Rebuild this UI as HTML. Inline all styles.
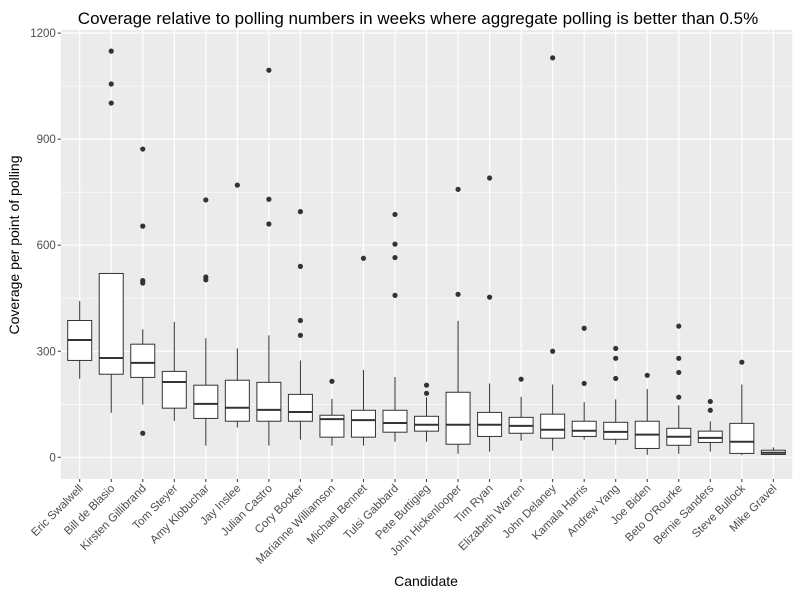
<!DOCTYPE html>
<html><head><meta charset="utf-8"><style>
body{margin:0;background:#fff;font-family:"Liberation Sans",Arial,sans-serif}
svg text{font-family:"Liberation Sans",Arial,sans-serif}
</style></head><body>
<svg id="chart" width="800" height="600" viewBox="0 0 800 600" xmlns="http://www.w3.org/2000/svg">
<rect width="800" height="600" fill="#fff"/>
<text x="418" y="24" font-size="17" text-anchor="middle" fill="#000">Coverage relative to polling numbers in weeks where aggregate polling is better than 0.5%</text>
<text x="426" y="586" font-size="14" text-anchor="middle" fill="#000">Candidate</text>
<text transform="translate(19,245) rotate(-90)" font-size="14" text-anchor="middle" fill="#000">Coverage per point of polling</text>
<g id="plot"></g>
</svg>
<script>
const candidates=["Eric Swalwell","Bill de Blasio","Kirsten Gillibrand","Tom Steyer","Amy Klobuchar","Jay Inslee","Julian Castro","Cory Booker","Marianne Williamson","Michael Bennet","Tulsi Gabbard","Pete Buttigieg","John Hickenlooper","Tim Ryan","Elizabeth Warren","John Delaney","Kamala Harris","Andrew Yang","Joe Biden","Beto O'Rourke","Bernie Sanders","Steve Bullock","Mike Gravel"];
const whiskerLow=[222,126,149,103,33,84,33,50,33,33,44,44,10,16,47,19,50,36,7,10,16,6,8];
const q1=[274,235,226,139,110,102,102,102,57,57,71,74,37,59,68,54,59,51,25,34,42,11,8];
const median=[332,281,267,213,151,140,134,128,108,105,97,92,92,92,89,78,75,72,64,58,55,44,13];
const q3=[387,520,320,243,204,218,212,178,119,133,133,116,184,127,113,122,102,99,102,82,74,96,20];
const whiskerHigh=[442,520,362,383,337,308,345,274,165,247,227,170,386,209,171,206,156,164,193,147,102,206,28];
const outliers=[[],[1149,1056,1002],[872,654,500,493,68],[],[728,510,502],[770],[1095,730,660],[695,540,387,345],[215],[563],[687,603,565,458],[204,181],[758,461],[790,453],[221],[1130,300],[365,209],[308,280,223],[232],[371,280,240,170],[158,133],[269],[]];
const yTicks=[0,300,600,900,1200];
const yMinor=[150,450,750,1050];

const L=60.8,R=792.2,T=30,B=479;
const y=v=>457.3-v*0.3535;
const x=i=>79.7+i*31.53;
const NS="http://www.w3.org/2000/svg";
const g=document.getElementById('plot');
function mk(tag,attrs,parent){const e=document.createElementNS(NS,tag);for(const k in attrs)e.setAttribute(k,attrs[k]);(parent||g).appendChild(e);return e;}
const bg=mk('rect',{x:L,y:T,width:R-L,height:B-T,fill:'#ebebeb'});


yMinor.forEach(v=>{const l=mk('line',{x1:L,x2:R,y1:y(v),y2:y(v),stroke:'#fff','stroke-width':0.6});

});
yTicks.forEach(v=>{const l=mk('line',{x1:L,x2:R,y1:y(v),y2:y(v),stroke:'#fff','stroke-width':1.2});


const tk=mk('line',{x1:L-3,x2:L,y1:y(v),y2:y(v),stroke:'#333','stroke-width':1});


const t=mk('text',{x:L-5,y:y(v)+4,'font-size':11.5,'text-anchor':'end',fill:'#4d4d4d'});t.textContent=v;

});
candidates.forEach((c,i)=>{const cx=x(i);
const l=mk('line',{x1:cx,x2:cx,y1:T,y2:B,stroke:'#fff','stroke-width':1.2});

});
candidates.forEach((c,i)=>{const cx=x(i),w=12;
const grp=mk('g',{});


mk('line',{x1:cx,x2:cx,y1:y(whiskerHigh[i]),y2:y(q3[i]),stroke:'#333','stroke-width':1},grp);
mk('line',{x1:cx,x2:cx,y1:y(q1[i]),y2:y(whiskerLow[i]),stroke:'#333','stroke-width':1},grp);
mk('rect',{x:cx-w,y:y(q3[i]),width:2*w,height:Math.max(y(q1[i])-y(q3[i]),0.5),fill:'#fff',stroke:'#333','stroke-width':1},grp);
mk('line',{x1:cx-w,x2:cx+w,y1:y(median[i]),y2:y(median[i]),stroke:'#333','stroke-width':2},grp);
outliers[i].forEach(o=>{const p=mk('circle',{cx:cx,cy:y(o),r:2.6,fill:'#333'},grp);

});
const tk=mk('line',{x1:cx,x2:cx,y1:B,y2:B+3,stroke:'#333','stroke-width':1});


const t=mk('text',{x:0,y:0,'font-size':11.5,'text-anchor':'end',fill:'#4d4d4d',transform:`translate(${cx+4},${B+10}) rotate(-45)`});
t.textContent=c;

});
</script>
</body></html>
